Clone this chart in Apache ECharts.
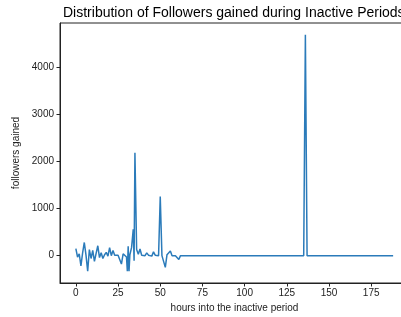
<!DOCTYPE html>
<html>
<head>
<meta charset="utf-8">
<script src="https://cdn.jsdelivr.net/npm/echarts@6/dist/echarts.min.js"></script>
<style>
	html, body { margin: 0; padding: 0; background: #fff; }
	#followers-chart { width: 401px; height: 317px; }
</style>
</head>
<body>
<div id="followers-chart"></div>
<script>
	// hours into the inactive period and followers gained at that hour
	const hours = [0, 1, 2, 3, 4, 5, 6, 7, 8, 9, 10, 11, 12, 13, 14, 15, 16, 17, 18, 19,
		20, 21, 22, 23, 24, 25, 26, 27, 28, 29, 30, 30.5, 31, 31.5, 32, 33, 34, 34.5, 35, 36,
		37, 38, 39, 40, 41, 42, 43, 44, 45, 46, 47, 48, 49, 50, 51, 52, 53, 54, 55, 56,
		57, 58, 59, 60, 61, 62, 63, 100, 135, 136, 137, 163, 164, 165, 188];
	const followers = [150, -30, 40, -220, 60, 280, 10, -330, 130, -60, 110, -120, 50, 210, -40, 60, -60, 20, 70, -10,
		170, 0, 110, 10, 30, 10, 20, -180, 40, 60, -30, -330, 200, -330, 20, 170, 560, -110, 2190, 130,
		30, 140, 10, 40, 0, 60, 10, 30, -10, 80, 10, 20, 0, 1260, 0, 30, -250, 20, 0, 100,
		0, 20, 0, 10, -80, 0, 0, 0, 0, 4700, 0, 0, -10, 0, 0];
	const xTicks = [0, 25, 50, 75, 100, 125, 150, 175];
	const yTicks = [0, 1000, 2000, 3000, 4000];

	const font = 'Liberation Sans, Arial, Helvetica, sans-serif';
	let chart = echarts.init(document.getElementById('followers-chart'));
	const option = {
		animation: false,
		title: {
			text: 'Distribution of Followers gained during Inactive Periods',
			left: 63,
			top: 6,
			padding: 0,
			textStyle: {
				color: '#000',
				fontSize: 14,
				fontWeight: 'normal',
				fontFamily: font
			}
		},
		grid: {
			left: 60,
			width: 349,
			top: 23,
			bottom: 34,
			outerBoundsMode: 'none',
			containLabel: false,
			show: true,
			borderColor: '#222',
			borderWidth: 1
		},
		xAxis: {
			type: 'value',
			min: -9.4,
			max: 197.4,
			name: 'hours into the inactive period',
			nameLocation: 'middle',
			nameGap: 18,
			nameTextStyle: { color: '#222', fontSize: 10, fontFamily: font },
			axisLine: { show: true, onZero: false, lineStyle: { color: '#222', width: 1 } },
			axisTick: { show: true, length: 3.5, customValues: xTicks, lineStyle: { color: '#222' } },
			axisLabel: { customValues: xTicks, margin: 5, color: '#222', fontSize: 10, fontFamily: font },
			splitLine: { show: false }
		},
		yAxis: {
			type: 'value',
			min: -582,
			max: 4951,
			name: 'followers gained',
			nameLocation: 'middle',
			nameGap: 34,
			nameTextStyle: { color: '#222', fontSize: 10, fontFamily: font },
			axisLine: { show: true, onZero: false, lineStyle: { color: '#222', width: 1 } },
			axisTick: { show: true, length: 3.5, customValues: yTicks, lineStyle: { color: '#222' } },
			axisLabel: {
				customValues: yTicks,
				margin: 6,
				color: '#222',
				fontSize: 10,
				fontFamily: font,
				formatter: v => String(v)
			},
			splitLine: { show: false }
		},
		series: [{
			type: 'line',
			showSymbol: false,
			symbol: 'none',
			lineStyle: { color: '#2b7bba', width: 1.5 },
			data: hours.map((h, i) => [h, followers[i]])
		}]
	};
	chart.setOption(option);
</script>
</body>
</html>
